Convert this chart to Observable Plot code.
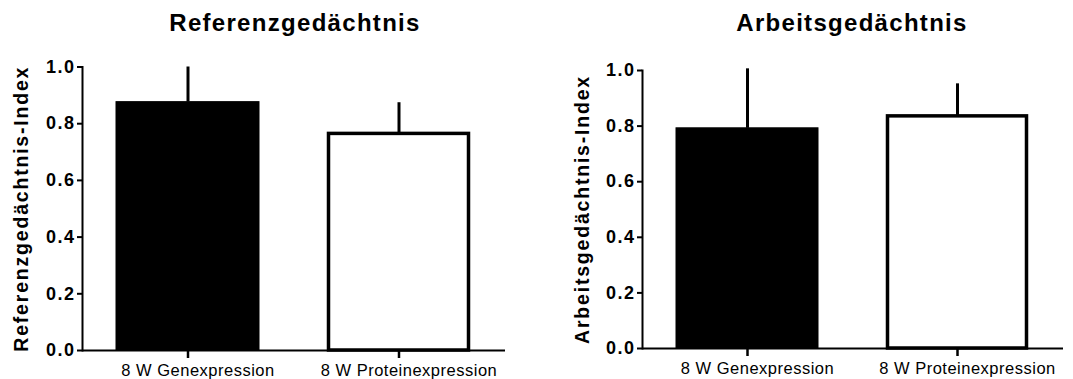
<!DOCTYPE html>
<html><head><meta charset="utf-8">
<script src="https://cdn.jsdelivr.net/npm/d3@7"></script>
<script src="https://cdn.jsdelivr.net/npm/@observablehq/plot@0.6"></script>
<style>
body{margin:0;background:#fff;font-family:"Liberation Sans",Arial,sans-serif;}
#wrap{position:relative;width:1073px;height:379px;overflow:hidden;background:#fff;}
.title{position:absolute;top:11px;width:400px;text-align:center;font-weight:bold;font-size:24px;line-height:24px;letter-spacing:1.3px;color:#000;font-family:"Liberation Sans",Arial,sans-serif;}
svg.panel, svg.panel text{font-family:"Liberation Sans",Arial,sans-serif !important;}
</style></head><body><div id="wrap"></div>
<script>
// ---- data ----
const categories = ["8 W Genexpression", "8 W Proteinexpression"];
const titles = ["Referenzgedächtnis", "Arbeitsgedächtnis"];
const yLabels = ["Referenzgedächtnis-Index", "Arbeitsgedächtnis-Index"];
const refMean = [0.876, 0.764];
const refSem = [0.124, 0.110];
const workMean = [0.792, 0.835];
const workSem = [0.214, 0.117];
const yTicks = [0, 0.2, 0.4, 0.6, 0.8, 1.0];

// ---- layout ----
const panels = [
  {mean: refMean, sem: refSem, title: titles[0], ylabel: yLabels[0],
   left: 0, width: 540, mt: 26.5, mb: 29, ml: 82, mr: 35, titleCenter: 295, labelDx: -61},
  {mean: workMean, sem: workSem, title: titles[1], ylabel: yLabels[1],
   left: 540, width: 533, mt: 30, mb: 31, ml: 102, mr: 10, titleCenter: 312, labelDx: -60}
];

const wrap = document.getElementById("wrap");

panels.forEach(p => {
  const data = categories.map((c, i) => ({cat: c, i, mean: p.mean[i], sem: p.sem[i]}));

  const t = document.createElement("div");
  t.className = "title";
  t.textContent = p.title;
  t.style.left = (p.left + p.titleCenter - 200) + "px";
  wrap.appendChild(t);

  const svg = Plot.plot({
    width: p.width,
    height: 339,
    marginTop: p.mt, marginBottom: p.mb, marginLeft: p.ml, marginRight: p.mr,
    style: {fontFamily: "'Liberation Sans', Arial, sans-serif", overflow: "visible", background: "white", color: "black"},
    x: {domain: categories, paddingInner: 0.322, paddingOuter: 0.16, axis: null},
    y: {domain: [0, 1], axis: null},
    marks: [
      Plot.ruleX(data, {x: "cat", y1: "mean", y2: d => d.mean + d.sem, stroke: "black", strokeWidth: 3}),
      Plot.barY(data, {filter: d => d.i === 0, x: "cat", y: "mean", fill: "black", stroke: "black", strokeWidth: 1}),
      Plot.barY(data, {filter: d => d.i === 1, x: "cat", y: "mean", fill: "white", stroke: "black", strokeWidth: 3.5, insetLeft: 1.5, insetRight: 1.5}),
      Plot.axisY({ticks: yTicks, tickFormat: d3.format(".1f"), tickSize: 5, tickPadding: 2, strokeWidth: 2, label: null}),
      Plot.axisX({tickSize: 8, strokeWidth: 2.5, tickFormat: () => "", label: null}),
      Plot.axisX({tickSize: 0, tickPadding: 14, dx: 10, label: null}),
      Plot.frame({anchor: "left", strokeWidth: 2}),
      Plot.ruleY([0], {strokeWidth: 2}),
      Plot.text([p.ylabel], {text: d => d, frameAnchor: "left", rotate: -90, dx: p.labelDx,
                              textAnchor: "middle", lineAnchor: "middle"})
    ]
  });
  svg.classList.add("panel");
  const s = d3.select(svg);
  s.selectAll('g[aria-label="y-axis tick label"] text')
    .style("font-size", "18px").style("font-weight", "bold").attr("letter-spacing", 1.5);
  s.selectAll('g[aria-label="x-axis tick label"] text')
    .style("font-size", "16.5px").style("font-weight", "normal").attr("letter-spacing", 0.5);
  s.selectAll('g[aria-label="text"] text')
    .style("font-size", "19.5px").style("font-weight", "bold").attr("letter-spacing", 1.8);
  svg.style.position = "absolute";
  svg.style.left = p.left + "px";
  svg.style.top = "40px";
  wrap.appendChild(svg);
});
</script></body></html>
